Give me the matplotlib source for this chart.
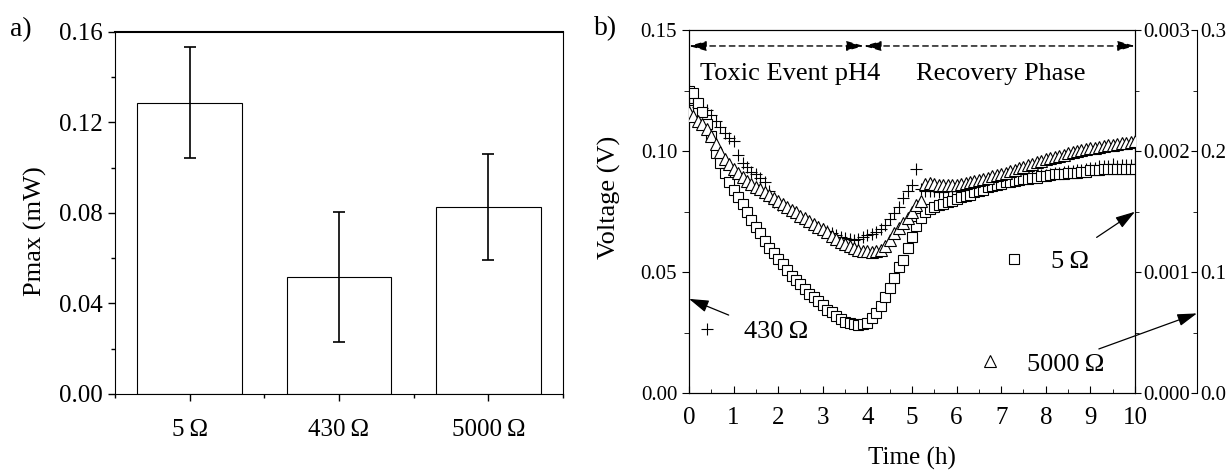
import numpy as np
import matplotlib
matplotlib.use('Agg')
import matplotlib.pyplot as plt
from matplotlib.ticker import MultipleLocator, FormatStrFormatter, FixedLocator

plt.rcParams['font.family'] = ['Liberation Serif', 'DejaVu Serif']

# a) maximum power for each external load
loads = ['5\u2009Ω', '430\u2009Ω', '5000\u2009Ω']
pmax = [0.1288, 0.0518, 0.0828]
pmax_err = [0.0245, 0.0288, 0.0234]

# b) cell voltage through the pH 4 shock and the recovery, one reading every 6 min
time_h = np.round(np.arange(101) * 0.1, 1)
v_430 = [0.1200, 0.1190, 0.1180, 0.1176, 0.1168, 0.1150, 0.1125, 0.1098, 0.1075, 0.1055,
         0.1042, 0.0985, 0.0952, 0.0932, 0.0915, 0.0903, 0.0890, 0.0872, 0.0835, 0.0790,
         0.0775, 0.0768, 0.0758, 0.0748, 0.0738, 0.0728, 0.0716, 0.0705, 0.0695, 0.0685,
         0.0676, 0.0668, 0.0660, 0.0653, 0.0646, 0.0640, 0.0636, 0.0633, 0.0636, 0.0643,
         0.0652, 0.0658, 0.0666, 0.0678, 0.0695, 0.0720, 0.0745, 0.0770, 0.0805, 0.0835,
         0.0860, 0.0925, 0.0842, 0.0836, 0.0834, 0.0833, 0.0832, 0.0832, 0.0833, 0.0835,
         0.0838, 0.0841, 0.0845, 0.0848, 0.0852, 0.0855, 0.0859, 0.0862, 0.0866, 0.0869,
         0.0872, 0.0875, 0.0878, 0.0881, 0.0884, 0.0887, 0.0890, 0.0893, 0.0896, 0.0899,
         0.0902, 0.0905, 0.0908, 0.0911, 0.0913, 0.0916, 0.0918, 0.0921, 0.0923, 0.0926,
         0.0928, 0.0931, 0.0940, 0.0936, 0.0938, 0.0945, 0.0940, 0.0942, 0.0943, 0.0944,
         0.0945]
v_5 = [0.00250, 0.00248, 0.00240, 0.00232, 0.00222, 0.00212, 0.00198, 0.00190, 0.00182, 0.00174,
       0.00168, 0.00162, 0.00156, 0.00150, 0.00143, 0.00137, 0.00132, 0.00126, 0.00120, 0.00116,
       0.00111, 0.00107, 0.00102, 0.00097, 0.00093, 0.00090, 0.00086, 0.00082, 0.00079, 0.00076,
       0.00073, 0.00069, 0.00067, 0.00064, 0.00061, 0.00059, 0.00058, 0.00057, 0.00056, 0.00057,
       0.00058, 0.00062, 0.00066, 0.00072, 0.00079, 0.00087, 0.00095, 0.00104, 0.00110, 0.00120,
       0.00129, 0.00138, 0.00145, 0.00150, 0.00152, 0.00154, 0.00155, 0.00156, 0.00158, 0.00159,
       0.00160, 0.00162, 0.00163, 0.00164, 0.00166, 0.00167, 0.00168, 0.00170, 0.00171, 0.00172,
       0.00173, 0.00174, 0.00174, 0.00175, 0.00176, 0.00177, 0.00177, 0.00178, 0.00178, 0.00179,
       0.00179, 0.00180, 0.00181, 0.00181, 0.00181, 0.00182, 0.00182, 0.00182, 0.00183, 0.00183,
       0.00184, 0.00184, 0.00184, 0.00185, 0.00185, 0.00185, 0.00185, 0.00185, 0.00185, 0.00185,
       0.00185]
v_5000 = [0.2320, 0.2290, 0.2250, 0.2220, 0.2180, 0.2120, 0.2060, 0.1990, 0.1930, 0.1890,
          0.1850, 0.1816, 0.1784, 0.1756, 0.1730, 0.1704, 0.1684, 0.1660, 0.1636, 0.1612,
          0.1590, 0.1564, 0.1540, 0.1516, 0.1492, 0.1466, 0.1444, 0.1424, 0.1400, 0.1376,
          0.1356, 0.1328, 0.1300, 0.1276, 0.1252, 0.1234, 0.1216, 0.1196, 0.1182, 0.1174,
          0.1170, 0.1168, 0.1172, 0.1184, 0.1216, 0.1266, 0.1320, 0.1360, 0.1406, 0.1450,
          0.1500, 0.1550, 0.1584, 0.1730, 0.1732, 0.1728, 0.1722, 0.1718, 0.1716, 0.1718,
          0.1722, 0.1728, 0.1734, 0.1742, 0.1750, 0.1760, 0.1770, 0.1780, 0.1790, 0.1800,
          0.1810, 0.1822, 0.1834, 0.1846, 0.1858, 0.1870, 0.1882, 0.1894, 0.1906, 0.1918,
          0.1930, 0.1940, 0.1950, 0.1960, 0.1970, 0.1980, 0.1990, 0.1998, 0.2006, 0.2014,
          0.2022, 0.2028, 0.2034, 0.2040, 0.2046, 0.2052, 0.2058, 0.2064, 0.2070, 0.2074,
          0.2080]

fig = plt.figure(figsize=(12.31, 4.71), dpi=100)

# ---- a) bar chart ----
ax_p = fig.add_axes([0.0934, 0.1635, 0.3639, 0.7686])
ax_p.bar(range(len(loads)), pmax, width=0.7, yerr=pmax_err, color='white',
         edgecolor='k', linewidth=0.8, capsize=4,
         error_kw=dict(elinewidth=1.2, capthick=1.2, ecolor='k'))
ax_p.set_xlim(-0.5, 2.5)
ax_p.set_ylim(0, 0.16)
ax_p.set_xticks(range(len(loads)), loads)
ax_p.xaxis.set_minor_locator(FixedLocator([-0.5, 0.5, 1.5, 2.5]))
ax_p.yaxis.set_major_locator(MultipleLocator(0.04))
ax_p.yaxis.set_minor_locator(MultipleLocator(0.02))
ax_p.yaxis.set_major_formatter(FormatStrFormatter('%.2f'))
ax_p.tick_params(which='major', direction='out', length=5, width=1)
ax_p.tick_params(which='minor', direction='out', length=3, width=1)
ax_p.tick_params(axis='y', labelsize=18)
ax_p.tick_params(axis='x', labelsize=18, pad=13)
ax_p.set_ylabel('Pmax (mW)', fontsize=19)
ax_p.yaxis.set_label_coords(-0.152, 0.45)
ax_p.spines['top'].set_linewidth(1.5)

# ---- b) voltage over time, three y scales ----
ax_v = fig.add_axes([0.5597, 0.1656, 0.3623, 0.7707])
ax_5 = ax_v.twinx()
ax_5000 = ax_v.twinx()
ax_5000.spines['right'].set_position(('axes', 1.139))
for s in ['left', 'top', 'bottom']:
    ax_5000.spines[s].set_visible(False)

ax_v.plot(time_h, v_430, ls='none', marker='+', ms=9, mew=0.8, color='k', label='430\u2009Ω')
ax_5.plot(time_h, v_5, ls='none', marker='s', ms=7.5, mfc='white', mec='k', mew=0.8,
          label='5\u2009Ω')
ax_5000.plot(time_h, v_5000, ls='none', marker='^', ms=8, mfc='white', mec='k', mew=0.8,
             label='5000\u2009Ω')

ax_v.set_xlim(0, 10)
ax_v.set_ylim(0, 0.15)
ax_5.set_ylim(0, 0.003)
ax_5000.set_ylim(0, 0.3)

ax_v.xaxis.set_major_locator(MultipleLocator(1))
ax_v.xaxis.set_minor_locator(MultipleLocator(0.5))
ax_v.yaxis.set_major_locator(MultipleLocator(0.05))
ax_v.yaxis.set_minor_locator(MultipleLocator(0.025))
ax_v.yaxis.set_major_formatter(FormatStrFormatter('%.2f'))
ax_5.yaxis.set_major_locator(MultipleLocator(0.001))
ax_5.yaxis.set_minor_locator(MultipleLocator(0.0005))
ax_5.yaxis.set_major_formatter(FormatStrFormatter('%.3f'))
ax_5000.yaxis.set_major_locator(MultipleLocator(0.1))
ax_5000.yaxis.set_minor_locator(MultipleLocator(0.05))
ax_5000.yaxis.set_major_formatter(FormatStrFormatter('%.1f'))

ax_v.tick_params(axis='x', which='major', direction='in', length=5, labelsize=18, pad=10)
ax_v.tick_params(axis='x', which='minor', direction='in', length=3)
ax_v.tick_params(axis='y', which='major', direction='out', length=5, labelsize=15)
ax_v.tick_params(axis='y', which='minor', direction='out', length=3.5)
ax_5.tick_params(axis='y', which='major', direction='out', length=4, labelsize=15, pad=2)
ax_5.tick_params(axis='y', which='minor', direction='out', length=3)
ax_5000.tick_params(axis='y', which='major', direction='in', length=4, labelsize=15, pad=2)
ax_5000.tick_params(axis='y', which='minor', direction='in', length=3)

ax_v.set_xlabel('Time (h)', fontsize=18)
ax_v.xaxis.set_label_coords(0.5, -0.148)
ax_v.set_ylabel('Voltage (V)', fontsize=19)
ax_v.yaxis.set_label_coords(-0.152, 0.54)

# phase markers along the top
head = '<|-|>,head_length=0.7,head_width=0.2'
for x0, x1 in [(0, 3.92), (3.92, 10)]:
    ax_v.annotate('', xy=(x0, 0.1434), xytext=(x1, 0.1434),
                  arrowprops=dict(arrowstyle=head, color='k', lw=1, ls=(0, (4, 3)),
                                  shrinkA=0, shrinkB=0, mutation_scale=15))
ax_v.text(2.27, 0.132, 'Toxic Event pH4', fontsize=19, ha='center', va='center')
ax_v.text(7.0, 0.132, 'Recovery Phase', fontsize=19, ha='center', va='center')

# series keys and arrows to the matching y scale
arrow = dict(arrowstyle='-|>,head_length=0.8,head_width=0.25', color='k', lw=0.9,
             shrinkA=0, shrinkB=0, mutation_scale=15)
ax_v.annotate('', xy=(0.0, 0.0389), xytext=(0.89, 0.0322), arrowprops=arrow,
              annotation_clip=False)
ax_v.annotate('', xy=(10.0, 0.0749), xytext=(9.14, 0.0643), arrowprops=arrow,
              annotation_clip=False)
ax_v.annotate('', xy=(1.139, 0.0329), xycoords=('axes fraction', 'data'),
              xytext=(9.19, 0.0182), textcoords='data', arrowprops=arrow,
              annotation_clip=False)

key_opts = dict(frameon=False, fontsize=19, handlelength=1.0, handletextpad=0.9,
                borderpad=0, borderaxespad=0, numpoints=1, loc='center left',
                bbox_transform=ax_v.transAxes)
leg1 = ax_5000.legend(handles=ax_v.get_lines(), bbox_to_anchor=(0.0099, 0.169), **key_opts)
ax_5000.add_artist(leg1)
leg2 = ax_5000.legend(handles=ax_5.get_lines(), bbox_to_anchor=(0.6996, 0.3617), **key_opts)
ax_5000.add_artist(leg2)
ax_5000.legend(handles=ax_5000.get_lines(), bbox_to_anchor=(0.6453, 0.0799), **key_opts)

fig.text(0.008, 0.938, 'a)', fontsize=20, va='center')
fig.text(0.4825, 0.94, 'b)', fontsize=20, va='center')

fig.savefig('out.png', dpi=100)
